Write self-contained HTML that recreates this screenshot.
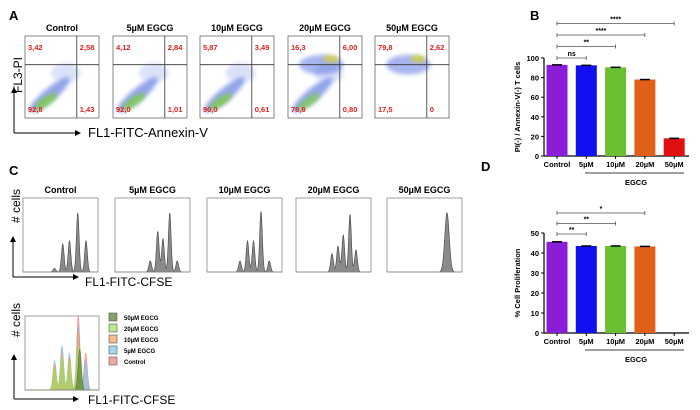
<!DOCTYPE html>
<html><head><meta charset="utf-8"><style>
body{margin:0;background:#fff;}
svg{display:block;font-family:"Liberation Sans",Arial,sans-serif;}
</style></head><body>
<svg id="fig" width="700" height="410" viewBox="0 0 700 410">
<defs>
<filter id="blur2" x="-50%" y="-50%" width="200%" height="200%"><feGaussianBlur stdDeviation="2"/></filter>
<marker id="arr" markerWidth="6" markerHeight="6" refX="5" refY="3" orient="auto"><path d="M0,0 L6,3 L0,6z" fill="#000"/></marker>
</defs>
<g font-weight="bold" font-size="13">
<text x="9" y="20">A</text>
<text x="530" y="20">B</text>
<text x="9" y="175">C</text>
<text x="481" y="171">D</text>
</g>
<g id="panelA"></g>
<g id="panelC"></g>
<g id="panelB"></g>
<g id="panelD"></g>
</svg>
<script>
const NS='http://www.w3.org/2000/svg';
function mk(p,t,a,txt){const e=document.createElementNS(NS,t);for(const k in a)e.setAttribute(k,a[k]);if(txt!==undefined)e.textContent=txt;p.appendChild(e);return e;}

// ---- Panel A data ----
const aTitles=['Control','5µM EGCG','10µM EGCG','20µM EGCG','50µM EGCG'];
const aUL=['3,42','4,12','5,87','16,3','79,8'];
const aUR=['2,58','2,84','3,49','6,00','2,62'];
const aLL=['92,8','92,0','90,0','76,8','17,5'];
const aLR=['1,43','1,01','0,61','0,80','0'];
const A=document.getElementById('panelA');
const ax0=[25,113,200,288,375];
for(let i=0;i<5;i++){
  const x=ax0[i],y=36,w=74,h=82;
  const g=mk(A,'g',{});
  
  
  const t=mk(g,'text',{x:x+w/2,y:31,'text-anchor':'middle','font-size':9,'font-weight':'bold'},aTitles[i]);
  
  
  const ul=parseFloat(aUL[i].replace(',','.'))/100;
  const ll=1-ul;
  if(ll>0.3){
    mk(g,'ellipse',{cx:x+w*0.33,cy:y+h*0.72,rx:w*0.35,ry:h*0.08,fill:'#3b5bd9',opacity:0.55,transform:`rotate(-40 ${x+w*0.33} ${y+h*0.72})`,filter:'url(#blur2)'});
    mk(g,'ellipse',{cx:x+w*0.55,cy:y+h*0.45,rx:w*0.2,ry:h*0.12,fill:'#6f8ae8',opacity:0.25,filter:'url(#blur2)'});
    mk(g,'ellipse',{cx:x+w*0.28,cy:y+h*0.8,rx:w*0.18,ry:h*0.05,fill:'#7fcf40',opacity:0.9*ll,transform:`rotate(-35 ${x+w*0.28} ${y+h*0.8})`,filter:'url(#blur2)'});
  }
  if(ul>0.1){
    mk(g,'ellipse',{cx:x+w*0.45,cy:y+h*0.35,rx:w*0.3,ry:h*0.12,fill:'#3b5bd9',opacity:0.45,filter:'url(#blur2)'});
    mk(g,'ellipse',{cx:x+w*0.58,cy:y+h*0.28,rx:w*0.1,ry:h*0.04,fill:'#d8d030',opacity:0.9,filter:'url(#blur2)'});
  }
  mk(g,'rect',{x:x,y:y,width:w,height:h,fill:'none',stroke:'#666','stroke-width':0.8});
  mk(g,'line',{x1:x+w*0.7,y1:y,x2:x+w*0.7,y2:y+h,stroke:'#333','stroke-width':0.8});
  mk(g,'line',{x1:x,y1:y+h*0.35,x2:x+w,y2:y+h*0.35,stroke:'#333','stroke-width':0.8});
  const red={fill:'#e0201c','font-size':7.5,'font-weight':'bold'};
  mk(g,'text',Object.assign({x:x+3,y:y+14},red),aUL[i]);
  mk(g,'text',Object.assign({x:x+w*0.7+3,y:y+14},red),aUR[i]);
  mk(g,'text',Object.assign({x:x+3,y:y+h-6},red),aLL[i]);
  mk(g,'text',Object.assign({x:x+w*0.7+3,y:y+h-6},red),aLR[i]);
}
mk(A,'line',{x1:14,y1:133,x2:14,y2:88,stroke:'#000','marker-end':'url(#arr)'});
mk(A,'line',{x1:14,y1:133,x2:80,y2:133,stroke:'#000','marker-end':'url(#arr)'});
mk(A,'text',{x:22,y:75,'font-size':12,transform:'rotate(-90 22 75)','text-anchor':'middle'},'FL3-PI');
mk(A,'text',{x:88,y:137,'font-size':13},'FL1-FITC-Annexin-V');

// ---- Panel C histograms ----
const cTitles=['Control','5µM EGCG','10µM EGCG','20µM EGCG','50µM EGCG'];
const cPeakPos=[[0.42,0.53,0.62,0.73,0.84],[0.47,0.57,0.64,0.73,0.83],[0.44,0.54,0.62,0.72,0.83],[0.48,0.56,0.63,0.72,0.8],[0.8]];
const cPeakH=[[0.05,0.38,0.42,0.8,0.42],[0.15,0.55,0.45,0.8,0.15],[0.15,0.42,0.42,0.82,0.15],[0.25,0.35,0.5,0.78,0.3],[0.8]];
const C=document.getElementById('panelC');
const cx0=[23,115,207,296,387];
function histPath(x,y,w,h,pos,hts,sd){
  let d=`M${x},${y+h}`;
  for(let k=0;k<=200;k++){const f=k/200;let v=0;for(let j=0;j<pos.length;j++)v+=hts[j]*Math.exp(-Math.pow((f-pos[j])/sd,2)/2);v=Math.min(v,1);d+=` L${x+f*w},${y+h-v*h}`;}
  return d+` L${x+w},${y+h}Z`;
}
for(let i=0;i<5;i++){
  const x=cx0[i],w=75;
  const g=mk(C,'g',{});
  
  
  mk(g,'text',{x:x+w/2,y:193,'text-anchor':'middle','font-size':9,'font-weight':'bold'},cTitles[i]);
  const by=198, bh=74;
  mk(g,'path',{d:histPath(x,by,w,bh,cPeakPos[i],cPeakH[i],i==4?0.03:0.018),fill:'#8a8a8a',stroke:'#444','stroke-width':0.6});
  mk(g,'rect',{x:x,y:by,width:w,height:bh,fill:'none',stroke:'#888','stroke-width':0.8});
}
mk(C,'line',{x1:13,y1:277,x2:13,y2:237,stroke:'#000','marker-end':'url(#arr)'});
mk(C,'line',{x1:13,y1:277,x2:78,y2:277,stroke:'#000','marker-end':'url(#arr)'});
mk(C,'text',{x:20,y:206,'font-size':12,transform:'rotate(-90 20 206)','text-anchor':'middle'},'# cells');
mk(C,'text',{x:85,y:286,'font-size':12},'FL1-FITC-CFSE');
// overlay
const ovNames=['50µM EGCG','20µM EGCG','10µM EGCG','5µM EGCG','Control'];
const ovColors=['#4d7a2a','#9be05a','#f0a060','#78c8f0','#f08080'];
const ovPos=[[0.74],[0.4,0.5,0.6,0.72],[0.4,0.5,0.6,0.72],[0.4,0.5,0.6,0.72,0.82],[0.4,0.5,0.6,0.72,0.82]];
const ovH=[[0.55],[0.3,0.45,0.4,0.6],[0.35,0.5,0.45,0.8],[0.4,0.6,0.5,0.85,0.4],[0.3,0.55,0.45,1.0,0.5]];
const og=mk(C,'g',{});


for(let j=4;j>=0;j--){
  mk(og,'path',{d:histPath(25,316,74,74,ovPos[j],ovH[j],0.022),fill:ovColors[j],'fill-opacity':0.6,stroke:ovColors[j],'stroke-width':0.5});
}
mk(og,'rect',{x:25,y:316,width:74,height:74,fill:'none',stroke:'#888','stroke-width':0.8});
for(let j=0;j<5;j++){
  const ly=313+j*11;
  const it=mk(og,'g',{});
  
  
  mk(it,'rect',{x:109,y:ly,width:8,height:8,fill:ovColors[j],'fill-opacity':0.7,stroke:'#555','stroke-width':0.6});
  mk(it,'text',{x:124,y:ly+7,'font-size':6,'font-weight':'bold'},ovNames[j]);
}
mk(C,'line',{x1:14,y1:399,x2:14,y2:355,stroke:'#000','marker-end':'url(#arr)'});
mk(C,'line',{x1:14,y1:399,x2:78,y2:399,stroke:'#000','marker-end':'url(#arr)'});
mk(C,'text',{x:20,y:320,'font-size':12,transform:'rotate(-90 20 320)','text-anchor':'middle'},'# cells');
mk(C,'text',{x:88,y:404,'font-size':12},'FL1-FITC-CFSE');

// ---- Bar charts ----
const barCats=['Control','5µM','10µM','20µM','50µM'];
const barColors=['#8a1ed8','#1010f0','#6ac030','#e06018','#e01010'];
const bValues=[93,92.5,90.5,78,18];
const bTicks=[0,20,40,60,80,100];
const dValues=[45.6,43.5,43.5,43.3,0];
const dTicks=[0,10,20,30,40,50];
const bSig=[['ns',1],['**',2],['****',3],['****',4]];
const dSig=[['**',1],['**',2],['*',3]];
function barChart(el,vals,ticks,max,y0,y1,ylabel,sig,sigY,sigStep,egY,nameP){
  const xc=i=>557+i*29.3;
  const ys=v=>y0-(v/max)*(y0-y1);
  const axX=544;
  mk(el,'line',{x1:axX,y1:y0,x2:axX,y2:y1,stroke:'#000','stroke-width':1.2});
  mk(el,'line',{x1:axX,y1:y0,x2:689,y2:y0,stroke:'#000','stroke-width':1.2});
  ticks.forEach(t=>{mk(el,'line',{x1:axX-3,y1:ys(t),x2:axX,y2:ys(t),stroke:'#000'});
    mk(el,'text',{x:axX-5,y:ys(t)+3,'text-anchor':'end','font-size':7.5,'font-weight':'bold'},t);});
  vals.forEach((v,i)=>{
    const r=mk(el,'rect',{x:xc(i)-10.5,y:ys(v),width:21,height:y0-ys(v),fill:barColors[i]});
    
    
    if(v>0)mk(el,'line',{x1:xc(i)-5,y1:ys(v),x2:xc(i)+5,y2:ys(v),stroke:'#000','stroke-width':1.5});
    mk(el,'line',{x1:xc(i),y1:y0,x2:xc(i),y2:y0+3,stroke:'#000'});
    mk(el,'text',{x:xc(i),y:y0+11,'text-anchor':'middle','font-size':7.5,'font-weight':'bold'},barCats[i]);
  });
  mk(el,'line',{x1:585,y1:egY,x2:684,y2:egY,stroke:'#000','stroke-width':0.8});
  mk(el,'text',{x:636,y:egY+12,'text-anchor':'middle','font-size':7.5,'font-weight':'bold'},'EGCG');
  mk(el,'text',{x:520,y:(y0+y1)/2,'text-anchor':'middle','font-size':7.5,'font-weight':'bold',transform:`rotate(-90 520 ${(y0+y1)/2})`},ylabel);
  sig.forEach((s,k)=>{
    const yy=sigY-k*sigStep, xe=xc(s[1]);
    mk(el,'line',{x1:xc(0),y1:yy,x2:xe,y2:yy,stroke:'#555','stroke-width':0.8});
    mk(el,'line',{x1:xc(0),y1:yy-2,x2:xc(0),y2:yy+2,stroke:'#555','stroke-width':0.8});
    mk(el,'line',{x1:xe,y1:yy-2,x2:xe,y2:yy+2,stroke:'#555','stroke-width':0.8});
    mk(el,'text',{x:(xc(0)+xe)/2,y:yy-2,'text-anchor':'middle','font-size':7,'font-weight':'bold'},s[0]);
  });
}
barChart(document.getElementById('panelB'),bValues,bTicks,100,156,58,'PI(-) / Annexin-V(-) T cells',bSig,58,11.5,173,'b');
barChart(document.getElementById('panelD'),dValues,dTicks,50,333,233,'% Cell Proliferation',dSig,234,10.5,350,'d');
</script>
</body></html>
